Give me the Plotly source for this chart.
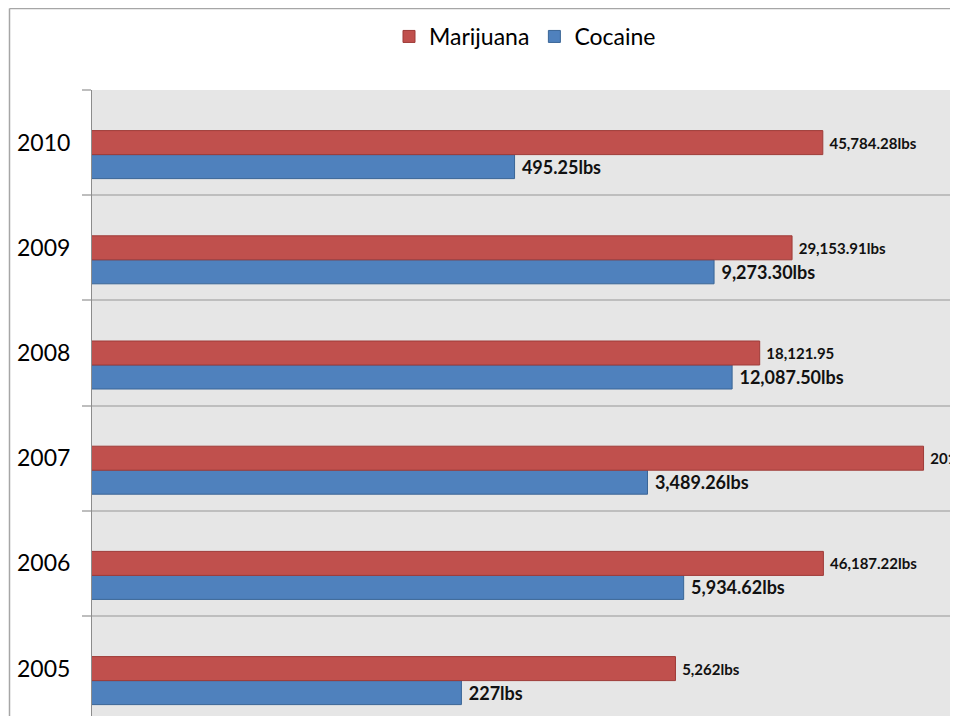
import plotly.graph_objects as go

years = ["2005", "2006", "2007", "2008", "2009", "2010"]
marijuana = [5262, 46187.22, 201000, 18121.95, 29153.91, 45784.28]
marijuana_labels = ["5,262lbs", "46,187.22lbs", "201,000lbs", "18,121.95",
                    "29,153.91lbs", "45,784.28lbs"]
cocaine = [227, 5934.62, 3489.26, 12087.50, 9273.30, 495.25]
cocaine_labels = ["227lbs", "5,934.62lbs", "3,489.26lbs", "12,087.50lbs",
                  "9,273.30lbs", "495.25lbs"]

RED = "#C0504D"
BLUE = "#4F81BD"
FONT = "Lato"

W, H = 950, 708          # page body has an 8px margin
L, T = 84, 82
PX_PER_DEC = 156.8
BAND = 105.2
BAR_W = 24 / BAND
PAD = "\u00a0"

fig = go.Figure()
fig.add_trace(go.Bar(
    y=years, x=cocaine, name="Cocaine", orientation="h",
    width=BAR_W, offset=-1.5 * BAR_W,
    marker=dict(color=BLUE, line=dict(color="#3A6596", width=1)),
    text=[PAD + t for t in cocaine_labels], textposition="outside",
    textfont=dict(family=FONT, size=18, color="#111111", weight="bold"),
    cliponaxis=False, constraintext="none",
    legendrank=2, hoverinfo="x+y",
))
fig.add_trace(go.Bar(
    y=years, x=marijuana, name="Marijuana", orientation="h",
    width=BAR_W, offset=-0.5 * BAR_W,
    marker=dict(color=RED, line=dict(color="#9E3B38", width=1)),
    text=[PAD + t for t in marijuana_labels], textposition="outside",
    textfont=dict(family=FONT, size=15, color="#111111", weight="bold"),
    cliponaxis=False, constraintext="none",
    legendrank=1, hoverinfo="x+y",
))

border = dict(color="#A6A6A6", width=1.5)
top_y = 1 + (T - 0.5) / (H - T)
left_x = (1.5 - L) / (W - L)

fig.update_layout(
    width=W, height=H,
    margin=dict(l=L, r=0, t=T, b=0, pad=0),
    paper_bgcolor="white",
    plot_bgcolor="#E6E6E6",
    barmode="overlay",
    font=dict(family=FONT, color="#000000"),
    legend=dict(
        orientation="h", x=517 / W, xanchor="center", xref="container",
        y=1 - 7 / H, yanchor="top", yref="container",
        font=dict(family=FONT, size=23, color="#000000"),
        traceorder="normal",
    ),
    xaxis=dict(
        type="log", range=[0, (W - L) / PX_PER_DEC],
        showticklabels=False, showgrid=False, zeroline=False,
        showline=False, ticks="",
    ),
    yaxis=dict(
        type="category", categoryorder="array", categoryarray=years,
        range=[5.5 - (H - T) / BAND, 5.5],
        tickson="boundaries", ticks="outside", ticklen=9,
        tickcolor="#BEBEBE", tickwidth=1.5,
        showgrid=True, gridcolor="#BEBEBE", gridwidth=1.5,
        showline=True, linecolor="#8C8C8C", linewidth=1,
        tickfont=dict(family=FONT, size=23, color="#000000"),
        ticklabelstandoff=16,
    ),
    shapes=[
        dict(type="line", xref="paper", yref="paper",
             x0=left_x, x1=1.02, y0=top_y, y1=top_y, line=border, layer="below"),
        dict(type="line", xref="paper", yref="paper",
             x0=left_x, x1=left_x, y0=-0.05, y1=top_y, line=border, layer="below"),
    ],
)

fig.write_html("out.html")
